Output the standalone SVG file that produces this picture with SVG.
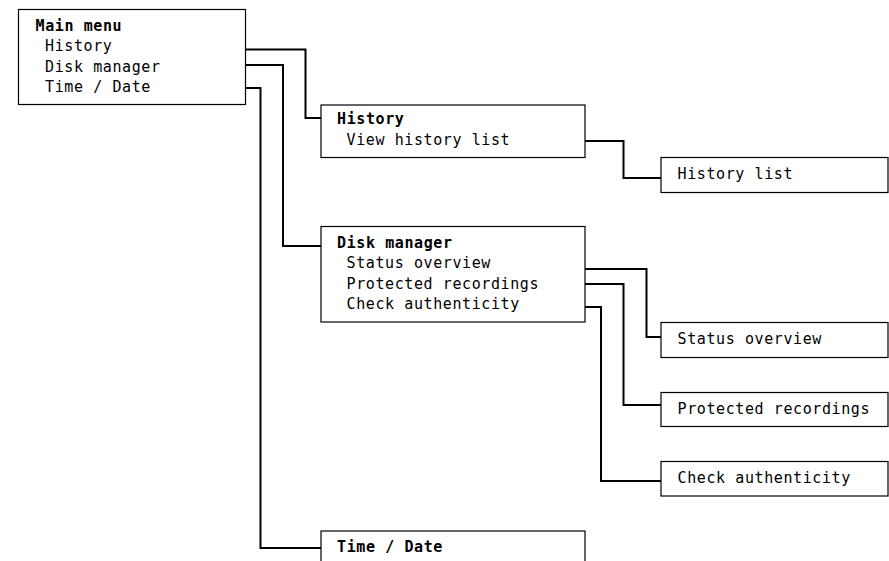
<svg xmlns="http://www.w3.org/2000/svg" width="889" height="561" viewBox="0 0 889 561">
<style>
.box{fill:#fff;stroke:#000;stroke-width:1.2}
.t{font-family:"DejaVu Sans Mono","Liberation Mono",monospace;font-size:15px;letter-spacing:0.6px;fill:#000}
.b{font-weight:bold}
.c{fill:none;stroke:#000;stroke-width:2;stroke-linejoin:miter}
</style>
<rect width="889" height="561" fill="#fff"/>
<g id="connectors">
<polyline class="c" points="245,49.5 305.5,49.5 305.5,118 321,118"/>
<polyline class="c" points="245,65 283,65 283,246 321,246"/>
<polyline class="c" points="245,88 260.5,88 260.5,548 321,548"/>
<polyline class="c" points="585,141 623.5,141 623.5,178 661,178"/>
<polyline class="c" points="585,269 646.5,269 646.5,337 661,337"/>
<polyline class="c" points="585,284 623.5,284 623.5,405 661,405"/>
<polyline class="c" points="585,307 601,307 601,481 661,481"/>
</g>
<g id="main-menu">
<rect class="box" x="18.5" y="9.5" width="227" height="95"/>
<text class="t b" x="35.5" y="30.5">Main menu</text>
<text class="t" x="45" y="51">History</text>
<text class="t" x="45" y="71.5">Disk manager</text>
<text class="t" x="45" y="92">Time / Date</text>
</g>
<g id="history">
<rect class="box" x="321" y="105" width="264" height="52.5"/>
<text class="t b" x="337" y="124">History</text>
<text class="t" x="346.5" y="144.5">View history list</text>
</g>
<g id="history-list">
<rect class="box" x="661" y="157.5" width="227" height="35"/>
<text class="t" x="677.5" y="179">History list</text>
</g>
<g id="disk-manager">
<rect class="box" x="321" y="226.5" width="264" height="95.5"/>
<text class="t b" x="337" y="247.5">Disk manager</text>
<text class="t" x="346.5" y="268">Status overview</text>
<text class="t" x="346.5" y="288.5">Protected recordings</text>
<text class="t" x="346.5" y="309">Check authenticity</text>
</g>
<g id="status-overview">
<rect class="box" x="661" y="322.5" width="227" height="35"/>
<text class="t" x="677.5" y="344">Status overview</text>
</g>
<g id="protected-recordings">
<rect class="box" x="661" y="392.5" width="227" height="34"/>
<text class="t" x="677.5" y="414">Protected recordings</text>
</g>
<g id="check-authenticity">
<rect class="box" x="661" y="461.5" width="227" height="34.5"/>
<text class="t" x="677.5" y="483">Check authenticity</text>
</g>
<g id="time-date">
<rect class="box" x="321" y="531" width="264" height="60"/>
<text class="t b" x="337" y="552">Time / Date</text>
</g>
</svg>
